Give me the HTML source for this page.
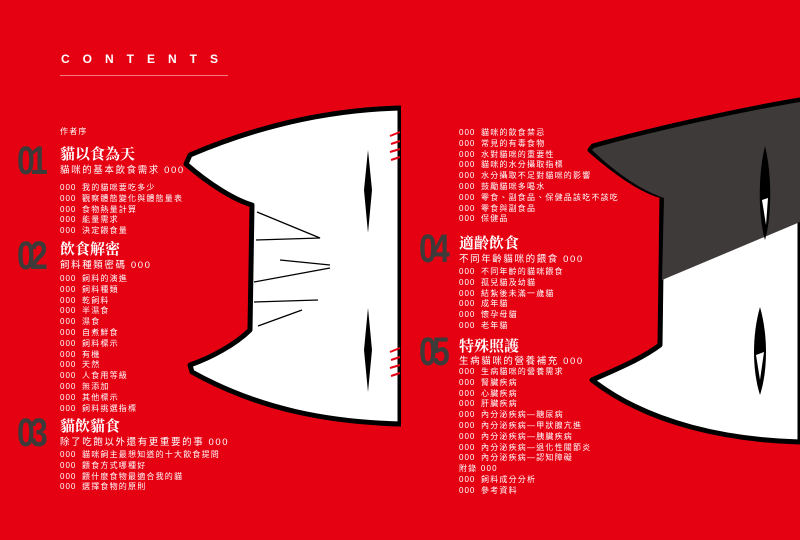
<!DOCTYPE html>
<html><head><meta charset="utf-8">
<style>
body{margin:0;width:800px;height:540px;overflow:hidden;background:#e50012;position:relative;font-family:"Liberation Sans","Noto Sans CJK TC",sans-serif;color:#fff}
.a{position:absolute;white-space:nowrap}
.ct{left:61px;top:52px;font-size:12px;font-weight:bold;letter-spacing:13px}
.ln{left:60px;top:75px;width:168px;height:1px;background:#f27a80}
.items{font-size:8px;line-height:10.8px;letter-spacing:1.2px}
.items span{display:inline-block;width:22px;letter-spacing:1px}
.num{font-family:"Liberation Sans",sans-serif;font-weight:bold;font-size:40px;line-height:40px;color:#3d3a3a;letter-spacing:-6px;transform:scaleX(0.8);transform-origin:left}
.t{font-family:"Liberation Serif","Noto Serif CJK SC",serif;font-weight:bold;font-size:15px}
.s{font-size:9.5px;letter-spacing:1.6px}
</style></head><body>
<svg class="a" style="left:0;top:0" width="800" height="540">
<path d="M400,108 C330,110 260,125 190,155 L186,164 C210,185 235,200 252,205 L250,330 C235,345 210,358 190,365 L192,372 C260,410 330,422 400,424 Z" fill="#fff" stroke="#000" stroke-width="5" stroke-linejoin="round"/>
<rect x="401" y="100" width="10" height="330" fill="#e50012"/>
<g stroke="#000" stroke-width="1.3" fill="none">
<path d="M257,212 L320,238 L256,240"/><path d="M280,260 L330,265"/><path d="M254,282 L330,268"/><path d="M254,302 L318,300"/><path d="M258,326 L302,310"/>
</g>
<path d="M368,150 L372,190 L368,233 L364,190 Z" fill="#000"/>
<path d="M368,308 L372,350 L368,392 L364,350 Z" fill="#000"/>
<g stroke="#e50012" stroke-width="2"><path d="M390,136 l10,-4 M391,144 l9,-3 M390,152 l10,-3 M391,160 l9,-3"/><path d="M390,352 l10,-4 M391,360 l9,-3 M390,368 l10,-3 M391,376 l9,-3"/></g>
<path d="M800,100 C740,110 650,130 593,146 L590,150 C615,172 640,190 662,196 L660,345 C640,360 610,372 592,380 C650,425 730,440 800,442 Z" fill="#fff" stroke="#000" stroke-width="5" stroke-linejoin="round"/>
<path d="M800,102 C740,112 650,132 594,148 L592,150 C615,172 640,190 664,198 L662,280 L800,222 Z" fill="#3e3a3a"/>
<path d="M765,146 C772,175 772,215 765,240 C758,215 758,175 765,146 Z" fill="#000"/>
<path d="M762,200 L768,198 L766,225 Z" fill="#fff"/>
<path d="M760,307 C768,335 768,370 760,395 C752,370 752,335 760,307 Z" fill="#000"/>
<path d="M756,355 L764,352 L760,380 Z" fill="#fff"/>
</svg>
<div class="a ct">CONTENTS</div><div class="a ln"></div>

<div class="a items" style="left:60px;top:127px;font-size:8px">作者序</div>
<div class="a num" style="left:17px;top:141px">01</div>
<div class="a t" style="left:60px;top:143px">貓以食為天</div>
<div class="a s" style="left:60px;top:162px">貓咪的基本飲食需求 000</div>
<div class="a items" style="left:60px;top:183px"><span>000</span>我的貓咪要吃多少<br><span>000</span>觀察體態變化與體態量表<br><span>000</span>食物熱量計算<br><span>000</span>能量需求<br><span>000</span>決定餵食量</div>

<div class="a num" style="left:17px;top:236px">02</div>
<div class="a t" style="left:60px;top:238px">飲食解密</div>
<div class="a s" style="left:60px;top:257px">飼料種類密碼 000</div>
<div class="a items" style="left:60px;top:274px"><span>000</span>飼料的演進<br><span>000</span>飼料種類<br><span>000</span>乾飼料<br><span>000</span>半濕食<br><span>000</span>濕食<br><span>000</span>自煮鮮食<br><span>000</span>飼料標示<br><span>000</span>有機<br><span>000</span>天然<br><span>000</span>人食用等級<br><span>000</span>無添加<br><span>000</span>其他標示<br><span>000</span>飼料挑選指標</div>

<div class="a num" style="left:17px;top:413px">03</div>
<div class="a t" style="left:60px;top:415px">貓飲貓食</div>
<div class="a s" style="left:60px;top:434px">除了吃飽以外還有更重要的事 000</div>
<div class="a items" style="left:60px;top:450px"><span>000</span>貓咪飼主最想知道的十大飲食提問<br><span>000</span>餵食方式哪種好<br><span>000</span>餵什麼食物最適合我的貓<br><span>000</span>選擇食物的原則</div>

<div class="a items" style="left:459px;top:128px"><span>000</span>貓咪的飲食禁忌<br><span>000</span>常見的有毒食物<br><span>000</span>水對貓咪的重要性<br><span>000</span>貓咪的水分攝取指標<br><span>000</span>水分攝取不足對貓咪的影響<br><span>000</span>鼓勵貓咪多喝水<br><span>000</span>零食、副食品、保健品該吃不該吃<br><span>000</span>零食與副食品<br><span>000</span>保健品</div>

<div class="a num" style="left:419px;top:229px">04</div>
<div class="a t" style="left:459px;top:232px">適齡飲食</div>
<div class="a s" style="left:459px;top:251px">不同年齡貓咪的餵食 000</div>
<div class="a items" style="left:459px;top:267px"><span>000</span>不同年齡的貓咪餵食<br><span>000</span>孤兒貓及幼貓<br><span>000</span>結紮後未滿一歲貓<br><span>000</span>成年貓<br><span>000</span>懷孕母貓<br><span>000</span>老年貓</div>

<div class="a num" style="left:419px;top:332px">05</div>
<div class="a t" style="left:459px;top:335px">特殊照護</div>
<div class="a s" style="left:459px;top:353px">生病貓咪的營養補充 000</div>
<div class="a items" style="left:459px;top:367px"><span>000</span>生病貓咪的營養需求<br><span>000</span>腎臟疾病<br><span>000</span>心臟疾病<br><span>000</span>肝臟疾病<br><span>000</span>內分泌疾病—糖尿病<br><span>000</span>內分泌疾病—甲狀腺亢進<br><span>000</span>內分泌疾病—胰臟疾病<br><span>000</span>內分泌疾病—退化性關節炎<br><span>000</span>內分泌疾病—認知障礙<br>附錄 000<br><span>000</span>飼料成分分析<br><span>000</span>參考資料</div>
</body></html>
